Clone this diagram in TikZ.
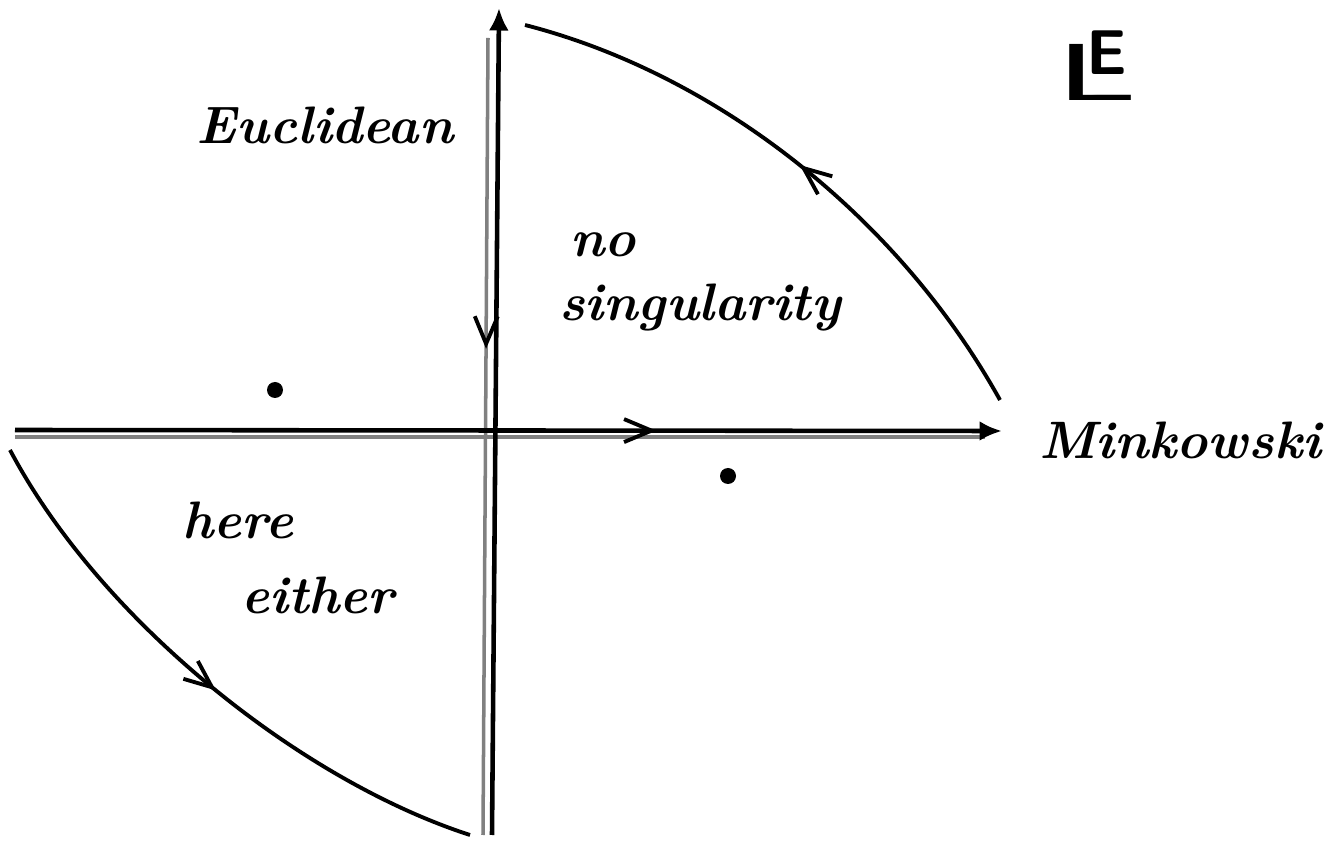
\documentclass[tikz,border=0pt]{standalone}
\usepackage{tikz}
\usetikzlibrary{arrows.meta,positioning,calc,decorations.markings}

\begin{document}
\begin{tikzpicture}[x=0.02cm,y=-0.02cm,
  axis/.style={line width=2.6pt,draw=black},
  axisghost/.style={line width=2pt,draw=black!50},
  tip/.style={-{Latex[length=4.5mm,width=4mm]}},
  midtip/.style={postaction={decorate},
    decoration={markings,mark=at position #1 with {\arrow[line width=2.2pt,black]{Straight Barb[length=5.5mm,width=4.6mm]}}}},
  curve/.style={line width=2.2pt,draw=black},
  hand/.style={font=\fontsize{30}{34}\selectfont\bfseries\itshape,inner sep=0pt},
  pt/.style={circle,fill=black,inner sep=0pt,minimum size=3.2mm}
]
\useasboundingbox (0,0) rectangle (1340,847);

% axes
\coordinate (W)  at (15,430);
\coordinate (Ea) at (1002,431);
\coordinate (S)  at (492,835);
\coordinate (N)  at (499,8);
\coordinate (Wg) at (15,437);
\coordinate (Eg) at (985,437);
\coordinate (Ng) at (488,38);
\coordinate (Sg) at (483,835);

\draw[axisghost] (Wg) -- (Eg);
\draw[axisghost,midtip=0.39] (Ng) -- (Sg);
\draw[axis,tip,midtip=0.65] (W) -- (Ea);
\draw[axis,tip] (S) -- (N);

% the two arcs
\coordinate (A1) at (1000,400);
\coordinate (A2) at (525,25);
\coordinate (B1) at (10,450);
\coordinate (B2) at (470,835);
\draw[curve,midtip=0.5] (A1) .. controls (900,220) and (720,75) .. (A2);
\draw[curve,midtip=0.52] (B1) .. controls (100,620) and (300,780) .. (B2);

% poles
\node[pt] (p1) at (275,390) {};
\node[pt] (p2) at (728,476) {};

% labels
\node[hand] (eucl) at (325,125) {Euclidean};
\node[hand] (mink) at (1180,440) {Minkowski};
\node[hand] (no)   at (603,245) {no};
\node[hand] (sing) at (700,308) {singularity};
\node[hand] (here) at (238,520) {here};
\node[hand] (eith) at (318,595) {either};
\node[font=\sffamily,inner sep=0pt,anchor=south west] (le) at (1055,101)
  {{\fontsize{46}{46}\selectfont\scalebox{2.0}[1]{L}}\kern-29pt\raisebox{15pt}{\fontsize{36}{36}\selectfont\bfseries E}};
\end{tikzpicture}
\end{document}
